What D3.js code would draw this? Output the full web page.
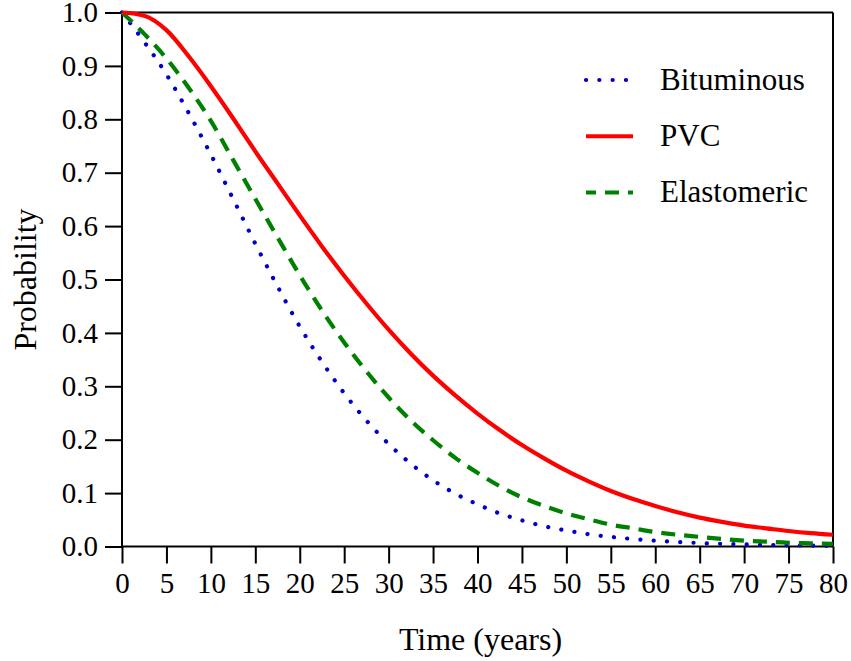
<!DOCTYPE html>
<html>
<head>
<meta charset="utf-8">
<script src="https://cdn.jsdelivr.net/npm/d3@7"></script>
<style>
  html, body { margin: 0; padding: 0; background: #fff; }
  svg { display: block; }
  text { font-family: "Liberation Serif", "Times New Roman", serif; fill: #000; }
</style>
</head>
<body>
<svg id="chart" width="851" height="661"></svg>
<script>
// ---- data ----
const years = [0, 2.5, 5, 7.5, 10, 12.5, 15, 17.5, 20, 22.5, 25, 27.5, 30, 32.5, 35, 37.5, 40,
               42.5, 45, 47.5, 50, 52.5, 55, 57.5, 60, 62.5, 65, 67.5, 70, 72.5, 75, 77.5, 80];
const bituminous = [1.0, 0.945, 0.884, 0.812, 0.734, 0.651, 0.567, 0.487, 0.412, 0.346, 0.287, 0.236, 0.192,
                    0.155, 0.124, 0.099, 0.079, 0.062, 0.049, 0.038, 0.030, 0.023, 0.018, 0.014, 0.011,
                    0.0085, 0.0065, 0.005, 0.004, 0.003, 0.0022, 0.0016, 0.0012];
const pvc = [1.0, 0.994, 0.967, 0.918, 0.862, 0.802, 0.740, 0.680, 0.620, 0.562, 0.507, 0.455, 0.406,
             0.361, 0.320, 0.283, 0.249, 0.218, 0.190, 0.165, 0.142, 0.122, 0.104, 0.089, 0.076,
             0.064, 0.054, 0.046, 0.039, 0.034, 0.029, 0.025, 0.022];
const elastomeric = [1.0, 0.960, 0.914, 0.859, 0.797, 0.724, 0.651, 0.579, 0.508, 0.442, 0.382, 0.328, 0.279,
                     0.236, 0.199, 0.166, 0.138, 0.113, 0.092, 0.076, 0.062, 0.051, 0.041, 0.034, 0.027,
                     0.022, 0.018, 0.014, 0.011, 0.009, 0.007, 0.006, 0.005];
const seriesNames = ["Bituminous", "PVC", "Elastomeric"];
const xTicks = d3.range(0, 81, 5);
const yTicks = [0.0, 0.1, 0.2, 0.3, 0.4, 0.5, 0.6, 0.7, 0.8, 0.9, 1.0];

// ---- layout ----
const svg = d3.select("#chart");
const L = 122, R = 833, T = 12.5, B = 546.5;
const x = d3.scaleLinear().domain([0, 80]).range([L, R]);
const y = d3.scaleLinear().domain([0, 1]).range([B, T]);

const styles = {
  Bituminous: { values: bituminous, color: "#0000cc", dash: "0.1,13.2", cap: "round", width: 4.2, off: 0 },
  PVC: { values: pvc, color: "#ff0000", dash: null, cap: "butt", width: 4.2, off: 0 },
  Elastomeric: { values: elastomeric, color: "#008000", dash: "14,9", cap: "butt", width: 4.2, off: 4 }
};

// frame (top and right)
svg.append("line").attr("x1", L).attr("x2", R).attr("y1", T).attr("y2", T)
  .attr("stroke", "#000").attr("stroke-width", 2);
svg.append("line").attr("x1", R).attr("x2", R).attr("y1", T).attr("y2", B)
  .attr("stroke", "#000").attr("stroke-width", 2);

// axes
const xAxis = svg.append("g").attr("transform", `translate(0,${B})`)
  .call(d3.axisBottom(x).tickValues(xTicks).tickSize(17).tickPadding(9).tickFormat(d3.format("d")));
const yAxis = svg.append("g").attr("transform", `translate(${L},0)`)
  .call(d3.axisLeft(y).tickValues(yTicks).tickSize(17).tickPadding(7).tickFormat(d3.format(".1f")));

[xAxis, yAxis].forEach(g => {
  g.select(".domain").attr("stroke", "#000").attr("stroke-width", 2);
  g.selectAll(".tick line").attr("stroke", "#000").attr("stroke-width", 2);
  g.selectAll(".tick text").attr("font-family", "Liberation Serif, serif").attr("font-size", 29).attr("fill", "#000");
});
xAxis.select(".domain").attr("d", `M${L},0H${R}`);
yAxis.select(".domain").attr("d", `M0,${B}V${T}`);

// curves
const line = d3.line().x((d, i) => x(years[i])).y(d => y(d)).curve(d3.curveMonotoneX);
const order = ["Bituminous", "Elastomeric", "PVC"];
order.forEach(name => {
  const s = styles[name];
  svg.append("path")
    .datum(s.values)
    .attr("d", line)
    .attr("fill", "none")
    .attr("stroke", s.color)
    .attr("stroke-width", s.width)
    .attr("stroke-linecap", s.cap)
    .attr("stroke-dasharray", s.dash);
});

// legend
const legendY = d3.scalePoint().domain(seriesNames).range([80, 192.5]);
const lg = svg.append("g");
seriesNames.forEach(name => {
  const s = styles[name];
  const yy = legendY(name);
  lg.append("line")
    .attr("x1", 586).attr("x2", 633).attr("y1", yy).attr("y2", yy)
    .attr("stroke", s.color).attr("stroke-width", s.width)
    .attr("stroke-linecap", s.cap)
    .attr("stroke-dasharray", s.dash)
    .attr("stroke-dashoffset", s.off);
  lg.append("text").attr("x", 660).attr("y", yy).attr("dy", "0.32em")
    .attr("font-size", 31).text(name);
});

// axis titles
svg.append("text").attr("x", (L + R) / 2 + 3).attr("y", 650)
  .attr("text-anchor", "middle").attr("font-size", 32).text("Time (years)");
svg.append("text").attr("transform", `translate(36,${(T + B) / 2}) rotate(-90)`)
  .attr("text-anchor", "middle").attr("font-size", 32).text("Probability");
</script>
</body>
</html>
